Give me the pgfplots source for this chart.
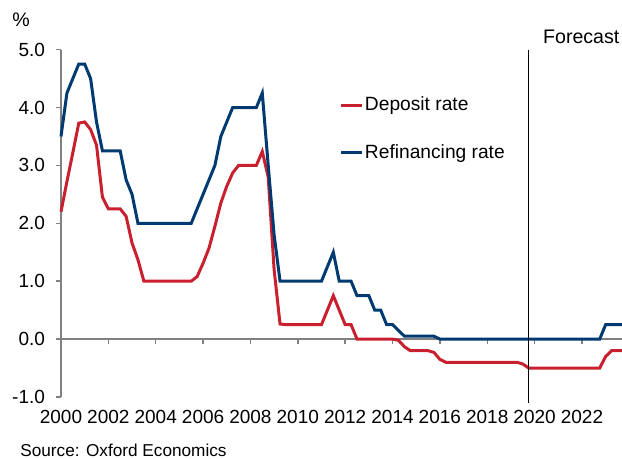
\documentclass[border=0pt]{standalone}
\usepackage{fontspec}
\setmainfont{Liberation Sans}
\usepackage{pgfplots}
\usepackage{pgfplotstable}
\pgfplotsset{compat=1.18}
\definecolor{deposit}{HTML}{C8202E}
\definecolor{refi}{HTML}{003A70}
\definecolor{axisgray}{HTML}{808080}

\pgfplotstableread{
year rate
2000.00 3.5
2000.25 4.25
2000.50 4.5
2000.75 4.75
2001.00 4.75
2001.25 4.5
2001.50 3.75
2001.75 3.25
2002.00 3.25
2002.25 3.25
2002.50 3.25
2002.75 2.75
2003.00 2.5
2003.25 2.0
2003.50 2.0
2003.75 2.0
2004.00 2.0
2004.25 2.0
2004.50 2.0
2004.75 2.0
2005.00 2.0
2005.25 2.0
2005.50 2.0
2005.75 2.25
2006.00 2.5
2006.25 2.75
2006.50 3.0
2006.75 3.5
2007.00 3.75
2007.25 4.0
2007.50 4.0
2007.75 4.0
2008.00 4.0
2008.25 4.0
2008.50 4.25
2008.75 3.0
2009.00 1.8
2009.25 1.0
2009.50 1.0
2009.75 1.0
2010.00 1.0
2010.25 1.0
2010.50 1.0
2010.75 1.0
2011.00 1.0
2011.25 1.25
2011.50 1.5
2011.75 1.0
2012.00 1.0
2012.25 1.0
2012.50 0.75
2012.75 0.75
2013.00 0.75
2013.25 0.5
2013.50 0.5
2013.75 0.25
2014.00 0.25
2014.25 0.15
2014.50 0.05
2014.75 0.05
2015.00 0.05
2015.25 0.05
2015.50 0.05
2015.75 0.05
2016.00 0.0
2016.25 0.0
2016.50 0.0
2016.75 0.0
2017.00 0.0
2017.25 0.0
2017.50 0.0
2017.75 0.0
2018.00 0.0
2018.25 0.0
2018.50 0.0
2018.75 0.0
2019.00 0.0
2019.25 0.0
2019.50 0.0
2019.75 0.0
2020.00 0.0
2020.25 0.0
2020.50 0.0
2020.75 0.0
2021.00 0.0
2021.25 0.0
2021.50 0.0
2021.75 0.0
2022.00 0.0
2022.25 0.0
2022.50 0.0
2022.75 0.0
2023.00 0.25
2023.25 0.25
2023.50 0.25
2023.75 0.25
}\refitable

\pgfplotstableread{
year rate
2000.00 2.2
2000.25 2.72
2000.50 3.22
2000.75 3.73
2001.00 3.75
2001.25 3.62
2001.50 3.35
2001.75 2.45
2002.00 2.25
2002.25 2.25
2002.50 2.25
2002.75 2.12
2003.00 1.66
2003.25 1.37
2003.50 1.0
2003.75 1.0
2004.00 1.0
2004.25 1.0
2004.50 1.0
2004.75 1.0
2005.00 1.0
2005.25 1.0
2005.50 1.0
2005.75 1.08
2006.00 1.31
2006.25 1.57
2006.50 1.95
2006.75 2.35
2007.00 2.64
2007.25 2.87
2007.50 3.0
2007.75 3.0
2008.00 3.0
2008.25 3.0
2008.50 3.24
2008.75 2.8
2009.00 1.2
2009.25 0.26
2009.50 0.25
2009.75 0.25
2010.00 0.25
2010.25 0.25
2010.50 0.25
2010.75 0.25
2011.00 0.25
2011.25 0.5
2011.50 0.75
2011.75 0.5
2012.00 0.25
2012.25 0.25
2012.50 0.0
2012.75 0.0
2013.00 0.0
2013.25 0.0
2013.50 0.0
2013.75 0.0
2014.00 0.0
2014.25 -0.02
2014.50 -0.13
2014.75 -0.2
2015.00 -0.2
2015.25 -0.2
2015.50 -0.2
2015.75 -0.23
2016.00 -0.35
2016.25 -0.4
2016.50 -0.4
2016.75 -0.4
2017.00 -0.4
2017.25 -0.4
2017.50 -0.4
2017.75 -0.4
2018.00 -0.4
2018.25 -0.4
2018.50 -0.4
2018.75 -0.4
2019.00 -0.4
2019.25 -0.4
2019.50 -0.43
2019.75 -0.5
2020.00 -0.5
2020.25 -0.5
2020.50 -0.5
2020.75 -0.5
2021.00 -0.5
2021.25 -0.5
2021.50 -0.5
2021.75 -0.5
2022.00 -0.5
2022.25 -0.5
2022.50 -0.5
2022.75 -0.5
2023.00 -0.3
2023.25 -0.2
2023.50 -0.2
2023.75 -0.2
}\deptable

\begin{document}
\begin{tikzpicture}
\useasboundingbox (0,0) rectangle (311pt,229.5pt);
\begin{axis}[
  at={(30.5pt,31pt)}, anchor=south west,
  scale only axis, width=281.2pt, height=173.7pt,
  xmin=2000, xmax=2023.75, ymin=-1, ymax=5,
  clip=false,
  axis x line=middle, axis y line=left,
  hide obscured x ticks=false,
  hide obscured y ticks=false,
  axis line style={-, draw=axisgray, line width=0.7pt},
  tick style={draw=axisgray, line width=0.7pt},
  tick align=outside, major tick length=2.5pt,
  xtick={2000,2002,...,2022}, ytick={-1,0,...,5},
  /pgf/number format/assume math mode=true,
  ticklabel style={font=\fontsize{9.5}{11}\selectfont},
  x tick label style={/pgf/number format/set thousands separator={}, yshift=-29.5pt},
  y tick label style={/pgf/number format/.cd, fixed, fixed zerofill, precision=1, /tikz/xshift=-2pt},
  legend style={at={(0.495,0.868)}, anchor=north west, draw=none, fill=none,
    inner sep=0pt,
    font=\fontsize{9.6}{11}\selectfont, row sep=14pt,
    nodes={inner sep=0.6pt}},
  legend cell align=left,
  legend image code/.code={\draw[#1] (0pt,0pt) -- (10.5pt,0pt);},
]
\addplot[deposit, line width=1.5pt] table[x=year, y=rate] {\deptable};
\addlegendentry{Deposit rate}
\addplot[refi, line width=1.5pt] table[x=year, y=rate] {\refitable};
\addlegendentry{Refinancing rate}
\draw[black, line width=0.5pt] (axis cs:2019.75,5) -- (axis cs:2019.75,-1.1);
\node[anchor=base, inner sep=0pt, font=\fontsize{9.8}{11}\selectfont] at (axis cs:2021.97,5.11) {Forecast};
\end{axis}
\node[anchor=base west, inner sep=0pt, font=\fontsize{9.8}{11}\selectfont] at (6pt,216pt) {\%};
\node[anchor=base west, inner sep=0pt, font=\fontsize{8.6}{10}\selectfont] at (10pt,1pt) {Source: Oxford Economics};
\end{tikzpicture}
\end{document}
